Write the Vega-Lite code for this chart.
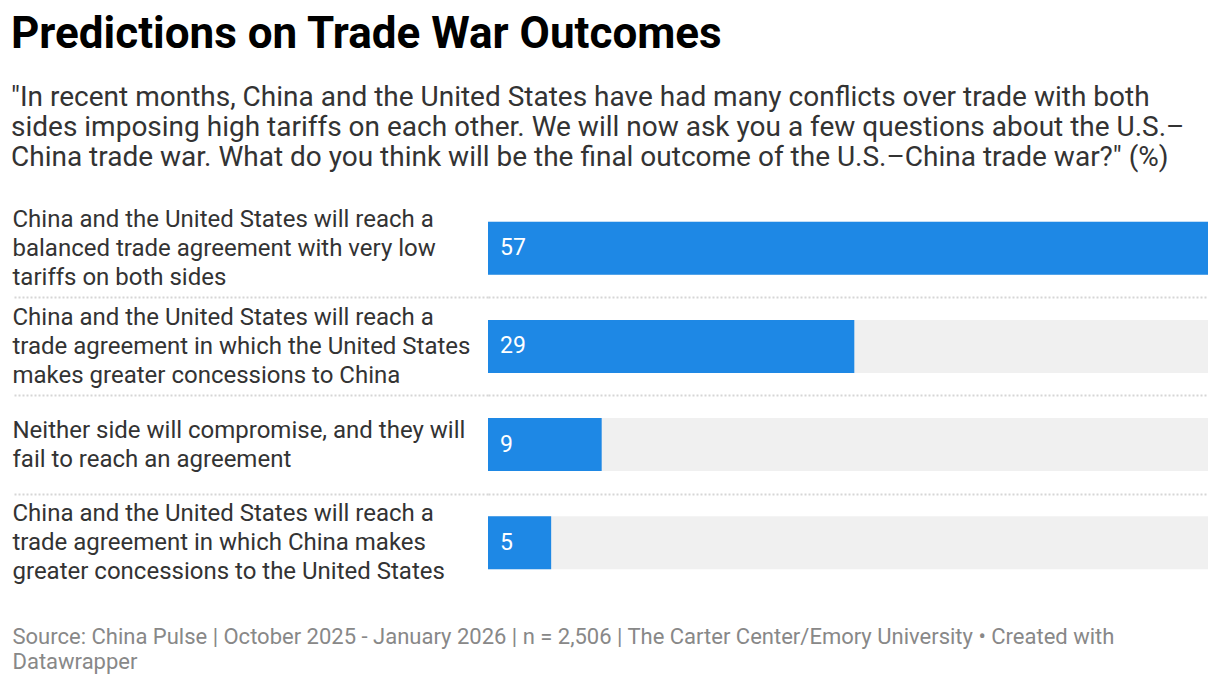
{
  "$schema": "https://vega.github.io/schema/vega-lite/v6.json",
  "width": 720,
  "height": 392.8,
  "autosize": {"type": "none"},
  "padding": {"left": 488, "top": 199.1, "right": 12, "bottom": 96.1},
  "background": "white",
  "config": {"font": "Roboto", "view": {"stroke": null}},
  "title": {
    "text": "Predictions on Trade War Outcomes",
    "subtitle": [
      "\"In recent months, China and the United States have had many conflicts over trade with both",
      "sides imposing high tariffs on each other. We will now ask you a few questions about the U.S.–",
      "China trade war. What do you think will be the final outcome of the U.S.–China trade war?\" (%)"
    ],
    "anchor": "start",
    "frame": "bounds",
    "font": "Roboto",
    "fontSize": 44,
    "fontWeight": "bold",
    "color": "#000000",
    "subtitleFont": "Roboto",
    "subtitleFontSize": 28,
    "subtitleColor": "#333333",
    "subtitleLineHeight": 30,
    "subtitlePadding": 27,
    "offset": 15
  },
  "data": {
    "values": [
      {"answer": "China and the United States will reach a|balanced trade agreement with very low|tariffs on both sides", "pct": 57},
      {"answer": "China and the United States will reach a|trade agreement in which the United States|makes greater concessions to China", "pct": 29},
      {"answer": "Neither side will compromise, and they will|fail to reach an agreement", "pct": 9},
      {"answer": "China and the United States will reach a|trade agreement in which China makes|greater concessions to the United States", "pct": 5}
    ]
  },
  "transform": [
    {"joinaggregate": [{"op": "max", "field": "pct", "as": "maxPct"}]}
  ],
  "encoding": {
    "y": {
      "field": "answer",
      "type": "nominal",
      "sort": null,
      "scale": {"paddingInner": 0, "paddingOuter": 0},
      "axis": {
        "title": null,
        "domain": false,
        "tickBand": "extent",
        "ticks": true,
        "tickSize": 476,
        "tickColor": "#d6d6d6",
        "tickDash": [2, 2],
        "tickWidth": 2,
        "tickOpacity": {"condition": {"test": "datum.index >= 0 && datum.index < 0.9", "value": 1}, "value": 0},
        "grid": true,
        "gridColor": "#d6d6d6",
        "gridDash": [2, 2],
        "gridWidth": 2,
        "gridOpacity": {"condition": {"test": "datum.index >= 0 && datum.index < 0.9", "value": 1}, "value": 0},
        "labelAlign": "left",
        "labelBaseline": "middle",
        "labelPadding": 0,
        "labelOffset": -29,
        "labelLimit": 480,
        "labelFont": "Roboto",
        "labelFontSize": 24,
        "labelColor": "#333333",
        "labelLineHeight": 14.5,
        "labelExpr": "length(split(datum.label, '|')) === 3 ? [split(datum.label, '|')[0], '\u2800', split(datum.label, '|')[1], '\u2800', split(datum.label, '|')[2]] : ['\u2800', split(datum.label, '|')[0], '\u2800', split(datum.label, '|')[1]]"
      }
    }
  },
  "layer": [
    {
      "mark": {"type": "bar", "color": "#f0f0f0", "height": {"band": 0.54}},
      "encoding": {
        "x": {
          "field": "maxPct",
          "type": "quantitative",
          "scale": {"domain": [0, 57], "nice": false},
          "axis": {
            "labels": false,
            "ticks": false,
            "domain": false,
            "grid": false,
            "title": [
              "Source: China Pulse | October 2025 - January 2026 | n = 2,506 | The Carter Center/Emory University • Created with",
              "Datawrapper"
            ],
            "titleFont": "Roboto",
            "titleFontSize": 22,
            "titleFontWeight": "normal",
            "titleColor": "#888888",
            "titleAnchor": "start",
            "titleAlign": "left",
            "titleBaseline": "top",
            "titleX": -476,
            "titleY": 35,
            "titleLineHeight": 25
          }
        }
      }
    },
    {
      "mark": {"type": "bar", "color": "#1e88e5", "height": {"band": 0.54}},
      "encoding": {
        "x": {"field": "pct", "type": "quantitative"}
      }
    },
    {
      "mark": {"type": "text", "color": "#ffffff", "align": "left", "baseline": "middle", "dx": 12, "fontSize": 23, "font": "Roboto"},
      "encoding": {
        "x": {"datum": 0, "type": "quantitative"},
        "text": {"field": "pct", "type": "quantitative"}
      }
    }
  ]
}
